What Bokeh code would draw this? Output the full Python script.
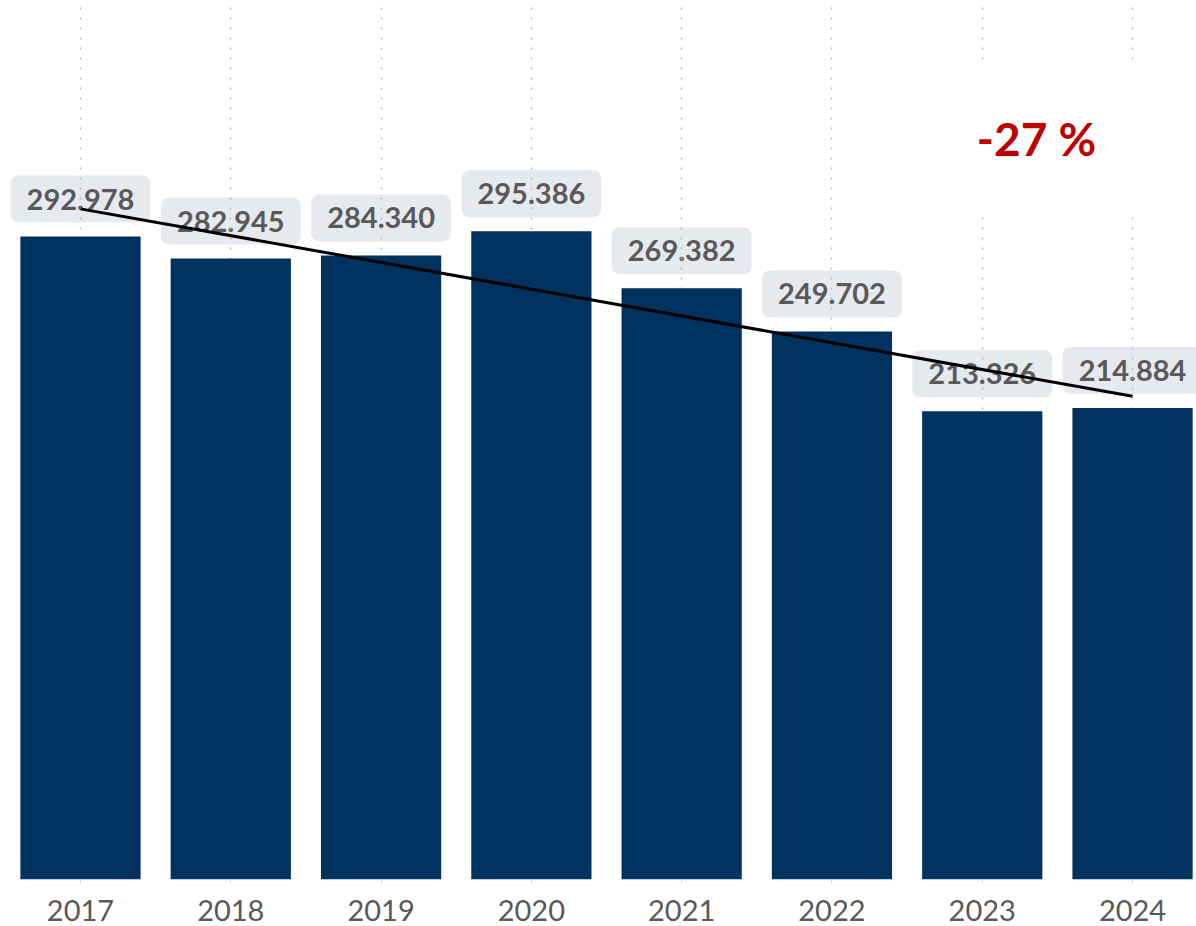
import numpy as np
from bokeh.plotting import figure
from bokeh.models import ColumnDataSource, Range1d, FixedTicker, Label
from bokeh.core.properties import value
from bokeh.embed import file_html
from bokeh.resources import INLINE

# ---- data ----
years = [2017, 2018, 2019, 2020, 2021, 2022, 2023, 2024]
values = [292978, 282945, 284340, 295386, 269382, 249702, 213326, 214884]
labels = [f"{v:,}".replace(",", ".") for v in values]
change_text = "-27 %"

# ---- colours / style ----
BAR = "#00325F"
TXT = "#595959"
BOX = "#E6E9ED"
RED = "#C00000"
FONT = "Lato"

W, H = 1196, 926
FRAME_H = 879
PX_PER_YEAR = 150.29
X0 = 2017 - 80 / PX_PER_YEAR
X1 = X0 + W / PX_PER_YEAR
PX_PER_UNIT = 643 / 292978
Y1 = FRAME_H / PX_PER_UNIT

p = figure(width=W, height=H, output_backend="svg", toolbar_location=None,
           x_range=Range1d(X0, X1), y_range=Range1d(0, Y1),
           y_axis_location=None, min_border_left=0, min_border_right=0,
           min_border_top=0, min_border_bottom=H - FRAME_H)
p.outline_line_color = None
p.background_fill_color = "white"
p.border_fill_color = "white"

# grid: dotted vertical lines at bar centres
p.ygrid.visible = False
p.xgrid.ticker = FixedTicker(ticks=years)
p.xgrid.grid_line_color = "#B8B8B8"
p.xgrid.grid_line_dash = "2 8"
p.xgrid.grid_line_width = 1.5

# axis
ax = p.xaxis[0]
ax.ticker = FixedTicker(ticks=years)
ax.axis_line_color = None
ax.major_tick_line_color = "#D9D9D9"
ax.major_tick_out = 4
ax.major_tick_in = 0
ax.minor_tick_line_color = None
ax.major_label_text_font = FONT
ax.major_label_text_font_size = "29px"
ax.major_label_text_color = TXT
ax.major_label_standoff = 16

src = ColumnDataSource(dict(x=years, top=values, lab=labels))

# value labels with rounded boxes (drawn under grid)
p.text(x="x", y="top", text="lab", source=src, level="image",
       text_font=value(FONT), text_font_style="bold", text_font_size="29px",
       text_color=TXT, text_align="center", text_baseline="bottom",
       y_offset=-14, padding=(16, 13), border_radius=8,
       background_fill_color=BOX)

# bars
p.vbar(x="x", top="top", bottom=0, width=0.8, source=src,
       fill_color=BAR, line_color=None)

# linear trend
idx = np.arange(len(values))
coef = np.polyfit(idx, values, 1)
trend = np.polyval(coef, [idx[0], idx[-1]])
p.line([years[0], years[-1]], trend, line_color="black", line_width=3)

# change annotation
p.add_layout(Label(x=1036, y=H - 185, x_units="screen", y_units="screen",
                   text=change_text, text_font=FONT, text_font_style="bold",
                   text_font_size="46px", text_color=RED,
                   text_align="center", text_baseline="middle",
                   background_fill_color="white", padding=(60, 50)))

open("out.html", "w").write(file_html(p, INLINE))
